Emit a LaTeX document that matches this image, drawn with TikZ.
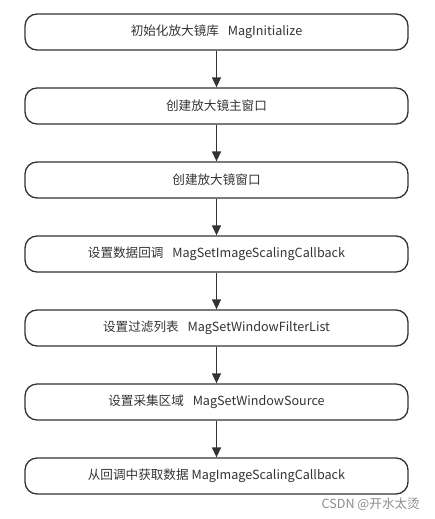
\documentclass[tikz,border=0pt]{standalone}
\usepackage{fontspec}
\setmainfont{Noto Sans CJK SC}
\usetikzlibrary{arrows.meta}
\definecolor{txt}{HTML}{333333}
\definecolor{edge}{HTML}{333333}
\tikzset{
  stepbox/.style={draw=edge, line width=1.3pt, rounded corners=12pt, minimum width=383pt, minimum height=36pt, inner sep=0pt, text=txt, font=\fontsize{12.6}{14}\selectfont},
  flow/.style={draw=edge, line width=1.3pt, -{Triangle[length=10pt,width=9pt]}},
}
\begin{document}
\begin{tikzpicture}[x=1pt,y=-1pt]
\useasboundingbox (0,0) rectangle (435,519);
\node[stepbox] (b1) at (216.5,32) {初始化放大镜库\hspace{0.7em}MagInitialize};
\node[stepbox] (b2) at (216.5,106) {创建放大镜主窗口};
\node[stepbox] (b3) at (216.5,180) {创建放大镜窗口};
\node[stepbox] (b4) at (216.5,254) {设置数据回调\hspace{0.7em}MagSetImageScalingCallback};
\node[stepbox] (b5) at (216.5,328) {设置过滤列表\hspace{0.7em}MagSetWindowFilterList};
\node[stepbox] (b6) at (216.5,402) {设置采集区域\hspace{0.7em}MagSetWindowSource};
\node[stepbox] (b7) at (216.5,476) {从回调中获取数据 MagImageScalingCallback};
\draw[flow] (b1) -- (b2);
\draw[flow] (b2) -- (b3);
\draw[flow] (b3) -- (b4);
\draw[flow] (b4) -- (b5);
\draw[flow] (b5) -- (b6);
\draw[flow] (b6) -- (b7);
\node[anchor=east, text=black!45, font=\fontsize{12.6}{14}\selectfont, inner sep=0pt] (wm) at (420,504) {CSDN @开水太烫};
\end{tikzpicture}
\end{document}
